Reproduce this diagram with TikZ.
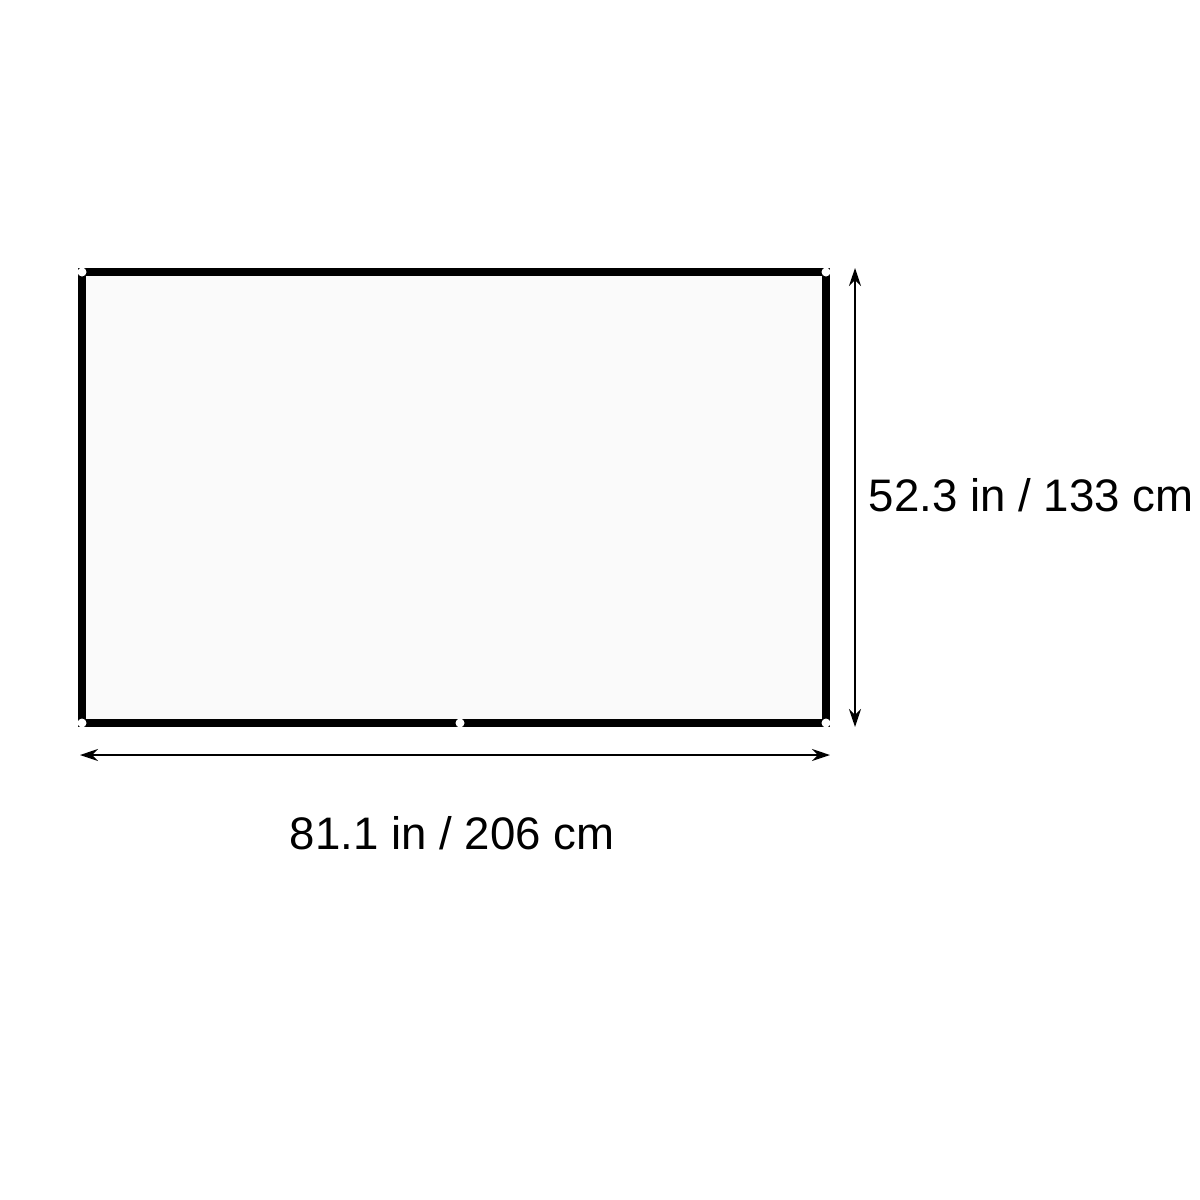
\documentclass[tikz,border=0pt]{standalone}
\usepackage{fontspec}
\setmainfont{Liberation Sans}
\usepackage{tikz}
\usetikzlibrary{arrows.meta,positioning}
\tikzset{
    screen/.style={
           rectangle,
           draw=black, line width=4pt,
           fill=black!2,
           outer sep=0pt,
           inner sep=0pt,
           minimum width=372pt,
           minimum height=225.5pt,
           },
    grommet/.style={
           circle,
           fill=white,
           inner sep=0pt,
           minimum size=4.5pt,
           },
    dimline/.style={
           {Stealth[length=9pt,width=6pt]}-{Stealth[length=9pt,width=6pt]},
           line width=1pt,
           },
    dimlabel/.style={
           font=\fontsize{22.8}{27}\selectfont,
           inner sep=0pt,
           },
}
\begin{document}
\begin{tikzpicture}[x=0.5pt,y=-0.5pt]
 \useasboundingbox (0,0) rectangle (1200,1200);

 \node[screen] (scr) at (454,497.5) {};

 % grommets
 \node[grommet] (g1) at (scr.north west) {};
 \node[grommet] (g2) at (scr.north east) {};
 \node[grommet] (g3) at (scr.south west) {};
 \node[grommet] (g4) at (scr.south east) {};
 \node[grommet] (g5) at ([xshift=3pt]scr.south) {};

 % dimensions
 \coordinate (vtop) at (855,268);
 \coordinate (vbot) at (855,727);
 \coordinate (hl) at (80,755);
 \coordinate (hr) at (830,755);
 \draw[dimline] (vtop) -- (vbot);
 \draw[dimline] (hl) -- (hr);

 \node[dimlabel] (hgt) at (1031,495) {52.3 in / 133 cm};
 \node[dimlabel] (wid) at (452,833) {81.1 in / 206 cm};

\end{tikzpicture}
\end{document}
